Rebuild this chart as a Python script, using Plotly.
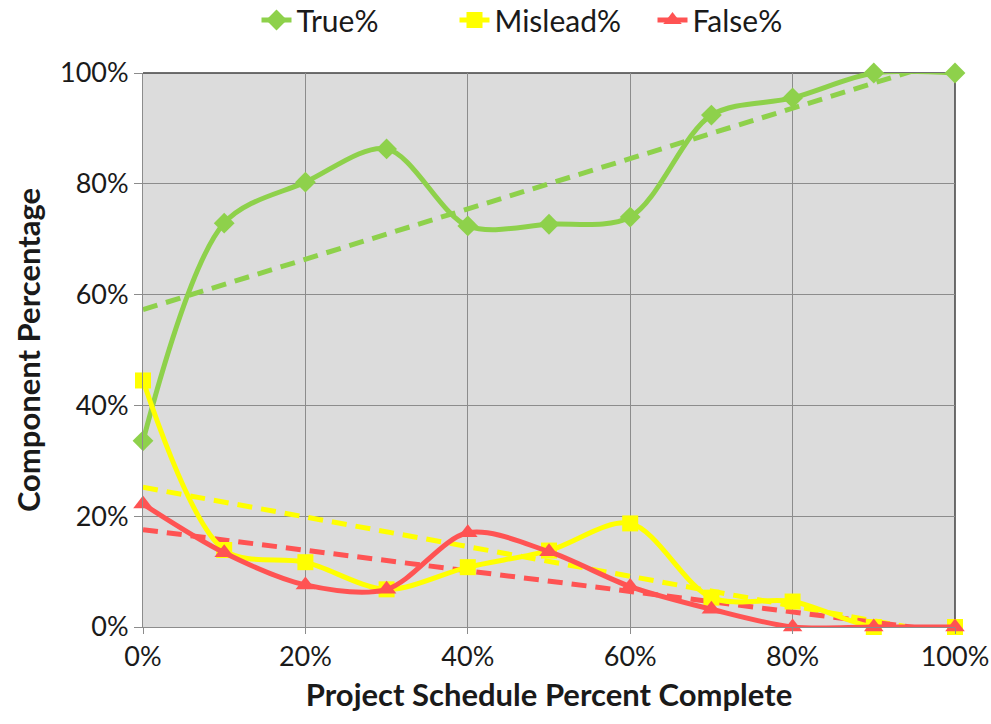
import numpy as np
import plotly.graph_objects as go

schedule = [0, 10, 20, 30, 40, 50, 60, 70, 80, 90, 100]
true_pct = [33.6, 72.9, 80.3, 86.3, 72.4, 72.7, 74.0, 92.4, 95.5, 100, 100]
mislead_pct = [44.5, 13.9, 11.7, 6.8, 10.8, 13.8, 18.7, 5.3, 4.6, 0, 0]
false_pct = [22.2, 13.4, 7.6, 6.8, 17.0, 13.6, 7.3, 3.2, 0, 0, 0]

series = [
    ("True%", true_pct, "#8ED14B", "diamond", 16),
    ("Mislead%", mislead_pct, "#FFFF00", "square", 16),
    ("False%", false_pct, "#FF5353", "triangle-up", 17),
]

x = np.array(schedule) / 100.0
fig = go.Figure()

# linear trendlines
for name, vals, color, sym, ms in series:
    y = np.array(vals) / 100.0
    m, b = np.polyfit(x, y, 1)
    xt = np.array([0.0, 1.0])
    fig.add_trace(go.Scatter(
        x=xt, y=m * xt + b, mode="lines", showlegend=False, hoverinfo="skip",
        line=dict(color=color, width=5, dash="15px,9px"), cliponaxis=True,
    ))

for name, vals, color, sym, ms in series:
    y = np.array(vals) / 100.0
    fig.add_trace(go.Scatter(
        x=x, y=y, name=name, mode="lines+markers",
        line=dict(color=color, width=5, shape="spline", smoothing=0.9),
        marker=dict(symbol=sym, size=ms, color=color),
        cliponaxis=False,
    ))

W, H = 991, 724
font_family = "Lato, 'Open Sans', sans-serif"
fig.update_layout(
    width=W, height=H,
    margin=dict(l=143, r=36, t=73, b=97, autoexpand=False),
    paper_bgcolor="white",
    plot_bgcolor="#DCDCDC",
    font=dict(family=font_family, size=27, color="#1a1a1a"),
    legend=dict(orientation="h", x=256.5 / W, xanchor="left", xref="container",
                y=1 - 20 / H, yanchor="middle", yref="container",
                font=dict(size=30), traceorder="normal",
                entrywidth=153, entrywidthmode="pixels"),
    xaxis=dict(
        range=[0, 1], tickformat=".0%", dtick=0.2, tick0=0, automargin=False,
        ticklabeloverflow="allow",
        showgrid=True, gridcolor="#8c8c8c", gridwidth=1,
        showline=True, linecolor="#8c8c8c", linewidth=1, mirror=False,
        ticks="outside", ticklen=6, tickcolor="#8c8c8c",
        zeroline=False,
        title=dict(text="<b>Project Schedule Percent Complete</b>", font=dict(size=31), standoff=12),
    ),
    yaxis=dict(
        range=[0, 1], tickformat=".0%", dtick=0.2, tick0=0, automargin=False,
        showgrid=True, gridcolor="#8c8c8c", gridwidth=1,
        showline=True, linecolor="#8c8c8c", linewidth=1,
        ticks="outside", ticklen=8, tickcolor="#8c8c8c",
        zeroline=False,
        title=dict(text="<b>Component Percentage</b>", font=dict(size=31), standoff=10),
    ),
    shapes=[
        dict(type="line", xref="paper", yref="paper", x0=0, x1=1, y0=1, y1=1,
             line=dict(color="#404040", width=1.5), layer="below"),
        dict(type="line", xref="paper", yref="paper", x0=1, x1=1, y0=0, y1=1,
             line=dict(color="#404040", width=1.5), layer="below"),
    ],
)

fig.write_html("out.html", config={"displayModeBar": False},
               post_script="document.body.style.margin='0';document.body.style.overflow='hidden';")
